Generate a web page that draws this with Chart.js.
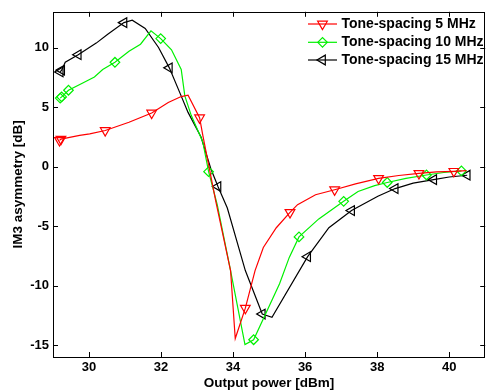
<!DOCTYPE html>
<html>
<head>
<meta charset="utf-8">
<script src="https://cdn.jsdelivr.net/npm/chart.js@4.4.1/dist/chart.umd.min.js"></script>
<style>
  html, body { margin: 0; padding: 0; background: #fff; }
  #wrap { width: 492px; height: 392px; }
</style>
</head>
<body>
<div id="wrap"><canvas id="imChart"></canvas></div>
<script>
// values
const seriesNames = ['Tone-spacing 5 MHz', 'Tone-spacing 10 MHz', 'Tone-spacing 15 MHz'];

const redX = [29.18, 29.22, 29.74, 30.02, 30.45, 31.11, 31.74, 32.2, 32.56, 32.75, 33.07, 33.16, 33.34, 33.52, 33.93, 34.06, 34.34, 34.61, 34.84, 35.2, 35.58, 35.79, 36.29, 36.82, 37.4, 38.04, 38.6, 39.16, 39.65, 40.13, 40.48];
const redY = [2.2, 2.3, 2.62, 2.75, 3.03, 3.72, 4.5, 5.38, 5.88, 5.99, 4.1, 2.62, -0.16, -2.92, -8.74, -14.45, -11.9, -8.74, -6.8, -5.14, -3.85, -3.2, -2.37, -1.95, -1.45, -0.99, -0.75, -0.57, -0.45, -0.4, -0.35];
const redMarks = [0, 1, 4, 6, 10, 16, 20, 23, 25, 27, 29];

const greenX = [29.2, 29.24, 29.43, 29.84, 30.15, 30.38, 30.72, 31.11, 31.43, 31.72, 31.99, 32.29, 32.56, 32.66, 32.84, 33.16, 33.32, 33.56, 33.93, 34.33, 34.57, 35.29, 35.56, 35.83, 36.38, 37.07, 37.47, 37.93, 38.28, 38.8, 39.37, 39.85, 40.34];
const greenY = [5.75, 5.85, 6.41, 7.04, 7.52, 8.15, 8.76, 9.68, 10.28, 11.4, 10.75, 9.81, 8.15, 5.94, 4.28, 2.06, -0.43, -3.2, -8.74, -14.95, -14.55, -9.84, -7.63, -5.91, -4.4, -2.92, -2.09, -1.6, -1.34, -1.0, -0.71, -0.5, -0.37];
const greenMarks = [0, 1, 2, 6, 10, 16, 20, 23, 25, 28, 30, 32];

const blackX = [29.2, 29.24, 29.34, 29.7, 30.2, 30.52, 30.97, 31.2, 31.56, 31.93, 32.23, 32.52, 32.75, 33.11, 33.38, 33.58, 33.84, 34.34, 34.81, 35.08, 36.07, 36.66, 37.29, 38.02, 38.5, 39.0, 39.57, 40.0, 40.5];
const blackY = [7.95, 8.1, 8.76, 9.4, 10.37, 11.11, 12.09, 12.3, 11.6, 10.0, 8.29, 6.21, 4.55, 2.48, -0.16, -1.68, -3.48, -8.74, -12.39, -12.66, -7.57, -5.14, -3.7, -2.5, -1.85, -1.4, -1.1, -0.88, -0.73];
const blackMarks = [0, 1, 3, 6, 10, 15, 18, 20, 22, 24, 26, 28];

const xTickVals = [30, 32, 34, 36, 38, 40];
const yTickVals = [-15, -10, -5, 0, 5, 10];

const FONT = '"Liberation Sans", Arial, Helvetica, sans-serif';

function makeSet(label, xs, ys, marks, color, style, rot, rad) {
  return {
    label: label,
    data: xs.map((x, i) => ({ x: x, y: ys[i] })),
    showLine: true,
    borderColor: color,
    backgroundColor: 'rgba(0,0,0,0)',
    borderWidth: 1.2,
    tension: 0,
    pointStyle: style,
    rotation: rot,
    pointRadius: xs.map((x, i) => marks.includes(i) ? rad : 0),
    pointBorderWidth: 1.2,
    pointBorderColor: color,
    pointBackgroundColor: 'rgba(0,0,0,0)',
    _legendRadius: rad
  };
}

// frame, inward ticks and the legend, matlab style
const framePlugin = {
  id: 'frame',
  afterDraw(chart) {
    const ctx = chart.ctx;
    const a = chart.chartArea;
    const xs = chart.scales.x, ys = chart.scales.y;
    ctx.save();
    ctx.strokeStyle = '#000';
    ctx.lineWidth = 1;
    ctx.strokeRect(Math.round(a.left) + 0.5, Math.round(a.top) + 0.5,
      Math.round(a.right - a.left) - 1, Math.round(a.bottom - a.top));
    ctx.beginPath();
    xTickVals.forEach(v => {
      const px = Math.round(xs.getPixelForValue(v)) + 0.5;
      ctx.moveTo(px, a.bottom); ctx.lineTo(px, a.bottom - 5);
      ctx.moveTo(px, a.top); ctx.lineTo(px, a.top + 5);
    });
    yTickVals.forEach(v => {
      const py = Math.round(ys.getPixelForValue(v)) + 0.5;
      ctx.moveTo(a.left, py); ctx.lineTo(a.left + 5, py);
      ctx.moveTo(a.right, py); ctx.lineTo(a.right - 5, py);
    });
    ctx.stroke();

    // legend
    const rowY = [24, 42.3, 60];
    chart.data.datasets.forEach((ds, i) => {
      const y = rowY[i];
      ctx.strokeStyle = ds.borderColor;
      ctx.lineWidth = 1.2;
      ctx.beginPath();
      ctx.moveTo(308, y); ctx.lineTo(337, y);
      ctx.stroke();
      ctx.fillStyle = 'rgba(0,0,0,0)';
      Chart.helpers.drawPoint(ctx, {
        pointStyle: ds.pointStyle, radius: ds._legendRadius,
        rotation: ds.rotation, borderWidth: 1.2
      }, 322.5, y);
      ctx.fillStyle = '#000';
      ctx.font = 'bold 14px ' + FONT;
      ctx.textBaseline = 'middle';
      ctx.textAlign = 'left';
      ctx.fillText(ds.label, 341.5, y);
    });
    ctx.restore();
  }
};

const ctx = document.getElementById('imChart').getContext('2d');
new Chart(ctx, {
  type: 'scatter',
  data: {
    datasets: [
      makeSet(seriesNames[0], redX, redY, redMarks, '#ff0000', 'triangle', 180, 5.6),
      makeSet(seriesNames[1], greenX, greenY, greenMarks, '#00f000', 'rectRot', 0, 4.8),
      makeSet(seriesNames[2], blackX, blackY, blackMarks, '#000000', 'triangle', -90, 5.6)
    ]
  },
  options: {
    responsive: true,
    maintainAspectRatio: false,
    animation: false,
    layout: { padding: { top: 8, right: 1, left: 0, bottom: 0 } },
    plugins: {
      legend: { display: false },
      tooltip: { enabled: false }
    },
    scales: {
      x: {
        type: 'linear',
        min: 29,
        max: 41,
        grid: { display: false, drawTicks: false, tickLength: 0 },
        border: { display: false },
        afterBuildTicks: (scale) => { scale.ticks = xTickVals.map(v => ({ value: v })); },
        afterFit: (scale) => { scale.height = 35; },
        ticks: {
          color: '#000',
          padding: 3,
          maxRotation: 0,
          font: { family: FONT, size: 13, weight: 'bold' }
        },
        title: {
          display: true,
          text: 'Output power [dBm]',
          color: '#000',
          padding: { top: 0, bottom: 1 },
          font: { family: FONT, size: 13.5, weight: 'bold' }
        }
      },
      y: {
        type: 'linear',
        min: -16,
        max: 13,
        grid: { display: false, drawTicks: false, tickLength: 0 },
        border: { display: false },
        afterBuildTicks: (scale) => { scale.ticks = yTickVals.map(v => ({ value: v })); },
        afterFit: (scale) => { scale.width = 53; },
        ticks: {
          color: '#000',
          padding: 4,
          font: { family: FONT, size: 13, weight: 'bold' }
        },
        title: {
          display: true,
          text: 'IM3 asymmetry [dB]',
          color: '#000',
          padding: { top: 10, bottom: 0 },
          font: { family: FONT, size: 13.5, weight: 'bold' }
        }
      }
    }
  },
  plugins: [framePlugin]
});
</script>
</body>
</html>
